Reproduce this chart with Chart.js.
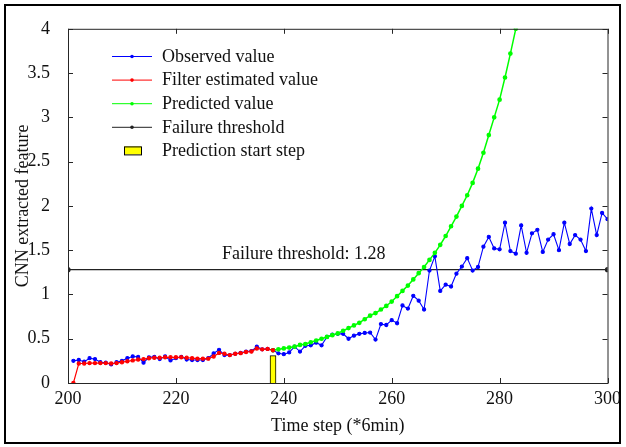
<!DOCTYPE html>
<html>
<head>
<meta charset="utf-8">
<script src="https://cdn.jsdelivr.net/npm/chart.js@4"></script>
<style>
  html, body { margin: 0; padding: 0; background: #fff; }
  canvas { display: block; }
</style>
</head>
<body>
<canvas id="grafico" width="626" height="447"></canvas>
<script>
// Datos
const pasoInicioObservado = 201;
const observado = [
    0.25, 0.26, 0.24, 0.28, 0.27, 0.235, 0.23, 0.21, 0.235, 0.25,
    0.28, 0.30, 0.295, 0.23, 0.29, 0.295, 0.27, 0.30, 0.255, 0.28,
    0.295, 0.265, 0.26, 0.26, 0.26, 0.28, 0.335, 0.375, 0.315, 0.315,
    0.33, 0.34, 0.355, 0.36, 0.41, 0.38, 0.385, 0.37, 0.335, 0.325,
    0.345, 0.41, 0.355, 0.42, 0.425, 0.455, 0.425, 0.52, 0.545, 0.555,
    0.555, 0.50, 0.535, 0.555, 0.565, 0.57, 0.49, 0.665, 0.655, 0.71,
    0.675, 0.875, 0.84, 0.985, 0.93, 0.83, 1.27, 1.43, 1.04, 1.11,
    1.09, 1.235, 1.315, 1.41, 1.27, 1.31, 1.54, 1.65, 1.52, 1.51,
    1.81, 1.49, 1.46, 1.78, 1.47, 1.69, 1.73, 1.48, 1.62, 1.68,
    1.50, 1.81, 1.57, 1.67, 1.62, 1.49, 1.97, 1.67, 1.92, 1.85
];

const pasoInicioFiltro = 201;
const filtrado = [
    0, 0.22, 0.22, 0.225, 0.225, 0.225, 0.225, 0.22, 0.225, 0.235,
    0.245, 0.255, 0.265, 0.27, 0.28, 0.285, 0.285, 0.29, 0.29, 0.29,
    0.29, 0.285, 0.28, 0.275, 0.275, 0.275, 0.30, 0.34, 0.33, 0.315,
    0.33, 0.337, 0.35, 0.355, 0.39, 0.38, 0.385, 0.37
];

const pasoInicioPrediccion = 238;
const predicho = [
    0.37, 0.38, 0.39, 0.40, 0.41, 0.43, 0.44, 0.46, 0.48, 0.50,
    0.52, 0.54, 0.56, 0.59, 0.62, 0.65, 0.68, 0.72, 0.76, 0.79,
    0.83, 0.87, 0.92, 0.98, 1.04, 1.10, 1.17, 1.24, 1.31, 1.39,
    1.47, 1.56, 1.66, 1.77, 1.88, 2.0, 2.12, 2.26, 2.42, 2.6,
    2.8, 3.0, 3.2, 3.45, 3.72, 4.0
];

const umbralPasos = [200, 300];
const umbralValor = 1.28;
const pasoInicio = 238;
const alturaBarraInicio = 0.31;

const ticksX = [200, 220, 240, 260, 280, 300];
const ticksY = [0, 0.5, 1, 1.5, 2, 2.5, 3, 3.5, 4];

const nombresSeries = ['Observed value', 'Filter estimated value', 'Predicted value', 'Failure threshold', 'Prediction start step'];
const coloresSeries = ['#0000ff', '#ff0000', '#00ff00', '#222222', '#ffff00'];

const fuente = 'Liberation Serif, Times New Roman, serif';

function aPuntos(inicio, valores) {
    return valores.map((v, i) => ({ x: inicio + i, y: v }));
}

// Ticks hacia adentro, caja, leyenda y marco exterior (estilo MATLAB)
const decoracion = {
    id: 'decoracion',
    afterDraw(chart) {
        const ctx = chart.ctx;
        const area = chart.chartArea;
        const sx = chart.scales.x;
        const sy = chart.scales.y;
        ctx.save();

        ctx.strokeStyle = '#262626';
        ctx.lineWidth = 1;
        ctx.strokeRect(area.left + 0.5, area.top + 0.5, area.right - area.left, area.bottom - area.top);

        ctx.beginPath();
        ticksX.forEach(t => {
            const px = Math.round(sx.getPixelForValue(t)) + 0.5;
            ctx.moveTo(px, area.bottom); ctx.lineTo(px, area.bottom - 5);
            ctx.moveTo(px, area.top); ctx.lineTo(px, area.top + 5);
        });
        ticksY.forEach(t => {
            const py = Math.round(sy.getPixelForValue(t)) + 0.5;
            ctx.moveTo(area.left, py); ctx.lineTo(area.left + 5, py);
            ctx.moveTo(area.right, py); ctx.lineTo(area.right - 5, py);
        });
        ctx.stroke();

        // texto del umbral
        ctx.fillStyle = '#111';
        ctx.font = '18px ' + fuente;
        ctx.textAlign = 'center';
        ctx.textBaseline = 'middle';
        ctx.fillText('Failure threshold: ' + umbralValor, sx.getPixelForValue(243.7), sy.getPixelForValue(umbralValor) - 15);

        // leyenda
        ctx.textAlign = 'left';
        const x0 = 112, x1 = 152, xt = 162;
        nombresSeries.forEach((nombre, i) => {
            const y = 56 + i * 23.6;
            if (i < 4) {
                ctx.strokeStyle = coloresSeries[i];
                ctx.lineWidth = 1;
                ctx.beginPath();
                ctx.moveTo(x0, y + 0.5); ctx.lineTo(x1, y + 0.5);
                ctx.stroke();
                ctx.fillStyle = coloresSeries[i];
                ctx.beginPath();
                ctx.arc((x0 + x1) / 2, y + 0.5, 1.8, 0, Math.PI * 2);
                ctx.fill();
            } else {
                ctx.fillStyle = coloresSeries[i];
                ctx.fillRect(124, y - 4, 17, 8);
                ctx.strokeStyle = '#000';
                ctx.strokeRect(124.5, y - 3.5, 17, 8);
            }
            ctx.fillStyle = '#111';
            ctx.fillText(nombre, xt, y + 1);
        });

        // marco exterior
        ctx.strokeStyle = '#000';
        ctx.lineWidth = 2;
        ctx.strokeRect(5, 5, 615, 438);
        ctx.restore();
    }
};

const ctx = document.getElementById('grafico').getContext('2d');
const grafico = new Chart(ctx, {
    type: 'line',
    data: {
        datasets: [
            {
                label: nombresSeries[4],
                type: 'bar',
                data: [{ x: pasoInicio, y: alturaBarraInicio }],
                backgroundColor: coloresSeries[4],
                borderColor: '#000',
                borderWidth: 1,
                barThickness: 6,
                order: 5
            },
            {
                label: nombresSeries[3],
                data: umbralPasos.map(p => ({ x: p, y: umbralValor })),
                borderColor: coloresSeries[3],
                backgroundColor: coloresSeries[3],
                borderWidth: 1.2,
                pointRadius: 2,
                order: 4
            },
            {
                label: nombresSeries[0],
                data: aPuntos(pasoInicioObservado, observado),
                borderColor: coloresSeries[0],
                backgroundColor: coloresSeries[0],
                borderWidth: 1.1,
                pointRadius: 1.6,
                order: 3
            },
            {
                label: nombresSeries[2],
                data: aPuntos(pasoInicioPrediccion, predicho),
                borderColor: coloresSeries[2],
                backgroundColor: coloresSeries[2],
                borderWidth: 1.5,
                pointRadius: 1.6,
                order: 2
            },
            {
                label: nombresSeries[1],
                data: aPuntos(pasoInicioFiltro, filtrado),
                borderColor: coloresSeries[1],
                backgroundColor: coloresSeries[1],
                borderWidth: 1.2,
                pointRadius: 1.6,
                order: 1
            }
        ]
    },
    options: {
        responsive: false,
        animation: false,
        devicePixelRatio: 1,
        layout: { padding: { top: 19, right: 18, left: 0, bottom: 0 } },
        plugins: {
            legend: { display: false },
            tooltip: { enabled: false }
        },
        elements: { line: { tension: 0 } },
        scales: {
            x: {
                type: 'linear',
                min: 200,
                max: 300,
                offset: false,
                afterFit: s => { s.height = 64; },
                afterBuildTicks: s => { s.ticks = ticksX.map(v => ({ value: v })); },
                grid: { display: false, drawTicks: false, offset: false },
                border: { display: false },
                ticks: { color: '#111', font: { family: fuente, size: 18 }, padding: 5, maxRotation: 0, callback: v => String(v) },
                title: { display: true, text: 'Time step (*6min)', color: '#111', font: { family: fuente, size: 18 }, padding: { top: 0, bottom: 10 } }
            },
            y: {
                min: 0,
                max: 4,
                afterFit: s => { s.width = 68; },
                afterBuildTicks: s => { s.ticks = ticksY.map(v => ({ value: v })); },
                grid: { display: false, drawTicks: false },
                border: { display: false },
                ticks: { color: '#111', font: { family: fuente, size: 18 }, padding: 18, callback: v => String(v) },
                title: { display: true, text: 'CNN extracted feature', color: '#111', font: { family: fuente, size: 18 }, padding: { top: 12, bottom: 0 } }
            }
        }
    },
    plugins: [decoracion]
});
</script>
</body>
</html>
